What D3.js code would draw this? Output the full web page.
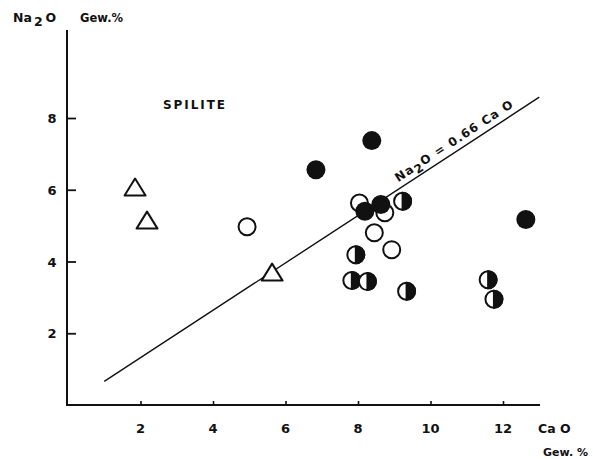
<!DOCTYPE html>
<html>
<head>
<meta charset="utf-8">
<script src="https://cdn.jsdelivr.net/npm/d3@7"></script>
<style>
  body { margin: 0; background: #fff; }
  svg text { font-family: "DejaVu Sans", sans-serif; font-weight: bold; fill: #111; }
</style>
</head>
<body>
<svg></svg>
<script>
// CaO / Na2O (Gew.%)
var filled = [[8.38, 7.37], [6.84, 6.56], [12.63, 5.17], [8.19, 5.40], [8.63, 5.59]];
var open = [[4.94, 4.97], [8.04, 5.63], [8.74, 5.36], [8.45, 4.80], [8.93, 4.33]];
var half = [[9.23, 5.68], [7.94, 4.19], [7.83, 3.47], [8.26, 3.44], [9.34, 3.17], [11.59, 3.49], [11.75, 2.95]];
var triangles = [[1.85, 6.06], [2.18, 5.14], [5.63, 3.69]];
var xTicks = [2, 4, 6, 8, 10, 12];
var yTicks = [2, 4, 6, 8];
var lineRange = [1, 13];
var slope = 0.66;

var width = 593, height = 459, r = 9.5;
var svg = d3.select('svg').attr('width', width).attr('height', height);

var x = d3.scaleLinear().domain([0, 12]).range([68, 503]);
var y = d3.scaleLinear().domain([0, 8]).range([405, 118]);

// axes
var xAxis = d3.axisTop(x).tickValues(xTicks).tickSize(4).tickFormat('');
var yAxis = d3.axisRight(y).tickValues(yTicks).tickSize(9).tickFormat('');

svg.append('g').attr('transform', 'translate(0,405)').call(xAxis)
  .call(function(g){ g.select('.domain').remove(); })
  .selectAll('line').attr('stroke', '#111').attr('stroke-width', 1.6);
svg.append('g').attr('transform', 'translate(67,0)').call(yAxis)
  .call(function(g){ g.select('.domain').remove(); })
  .selectAll('line').attr('stroke', '#111').attr('stroke-width', 1.8);

svg.append('line').attr('x1', 66).attr('x2', 540).attr('y1', 405).attr('y2', 405)
  .attr('stroke', '#111').attr('stroke-width', 2);
svg.append('line').attr('x1', 67).attr('x2', 67).attr('y1', 30).attr('y2', 406)
  .attr('stroke', '#111').attr('stroke-width', 2);

svg.selectAll('.xl').data(xTicks).enter().append('text')
  .attr('x', function(d){ return x(d); }).attr('y', 433)
  .attr('text-anchor', 'middle').style('font-size', '13px')
  .text(function(d){ return d; });
svg.selectAll('.yl').data(yTicks).enter().append('text')
  .attr('x', 52).attr('y', function(d){ return y(d) + 5; })
  .attr('text-anchor', 'middle').style('font-size', '13px')
  .text(function(d){ return d; });

// axis titles
var t = svg.append('text').attr('x', 13).attr('y', 22).style('font-size', '12.5px');
t.append('tspan').text('Na');
t.append('tspan').attr('dy', 4).attr('dx', 2).text('2');
t.append('tspan').attr('dy', -4).attr('dx', 3).text('O');
svg.append('text').attr('x', 80).attr('y', 22).style('font-size', '11.5px').text('Gew.%');
svg.append('text').attr('x', 538).attr('y', 433).style('font-size', '12.5px').text('Ca O');
svg.append('text').attr('x', 588).attr('y', 456).attr('text-anchor', 'end')
  .style('font-size', '11px').text('Gew. %');

svg.append('text').attr('x', 163).attr('y', 109).style('font-size', '12px')
  .attr('textLength', 62).attr('lengthAdjust', 'spacing').text('SPILITE');

// regression line
svg.append('line')
  .attr('x1', x(lineRange[0])).attr('y1', y(lineRange[0] * slope))
  .attr('x2', x(lineRange[1])).attr('y2', y(lineRange[1] * slope))
  .attr('stroke', '#111').attr('stroke-width', 1.4);

var ang = Math.atan2(y(13 * slope) - y(1 * slope), x(13) - x(1)) * 180 / Math.PI;
var lx = x(9.2), ly = y(9.2 * slope);
var lab = svg.append('text')
  .attr('transform', 'translate(' + lx + ',' + ly + ') rotate(' + ang + ') translate(0,-6)')
  .style('font-size', '12px').style('letter-spacing', '1.2px');
lab.append('tspan').text('Na');
lab.append('tspan').attr('dy', 4).text('2');
lab.append('tspan').attr('dy', -4).text('O = 0.66  Ca O');

// markers
svg.selectAll('.tri').data(triangles).enter().append('path')
  .attr('d', function(d){
    var cx = x(d[0]), cy = y(d[1]);
    return 'M' + cx + ',' + (cy - 9) + 'L' + (cx + 10.5) + ',' + (cy + 8) + 'L' + (cx - 10.5) + ',' + (cy + 8) + 'Z';
  })
  .attr('fill', '#fff').attr('stroke', '#111').attr('stroke-width', 2).attr('stroke-linejoin', 'round');

svg.selectAll('.open').data(open).enter().append('circle')
  .attr('cx', function(d){ return x(d[0]); }).attr('cy', function(d){ return y(d[1]); })
  .attr('r', r - 1).attr('fill', '#fff').attr('stroke', '#111').attr('stroke-width', 2);

var h = svg.selectAll('.half').data(half).enter().append('g');
h.append('circle')
  .attr('cx', function(d){ return x(d[0]); }).attr('cy', function(d){ return y(d[1]); })
  .attr('r', r - 1).attr('fill', '#fff').attr('stroke', '#111').attr('stroke-width', 2);
h.append('path')
  .attr('d', function(d){
    var cx = x(d[0]), cy = y(d[1]), rr = r - 1;
    return 'M' + cx + ',' + (cy - rr) + 'A' + rr + ',' + rr + ' 0 0 1 ' + cx + ',' + (cy + rr) + 'Z';
  })
  .attr('fill', '#111').attr('stroke', '#111').attr('stroke-width', 2);

svg.selectAll('.filled').data(filled).enter().append('circle')
  .attr('cx', function(d){ return x(d[0]); }).attr('cy', function(d){ return y(d[1]); })
  .attr('r', r).attr('fill', '#111');
</script>
</body>
</html>
